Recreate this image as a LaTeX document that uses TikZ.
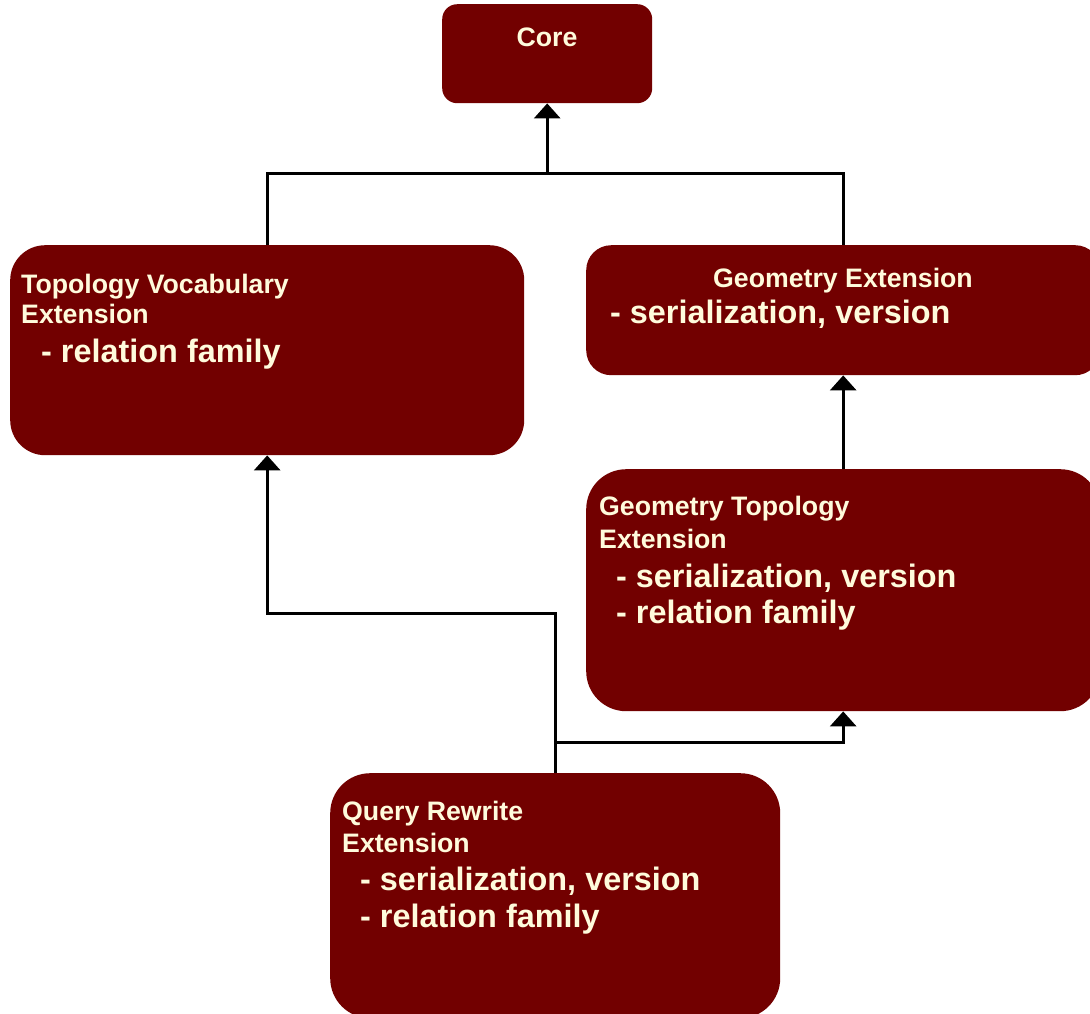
\documentclass[tikz,border=0pt]{standalone}
\usepackage{fontspec}
\setmainfont{Liberation Sans}
\usetikzlibrary{arrows.meta,calc}
\definecolor{boxred}{HTML}{720000}
\definecolor{boxtext}{HTML}{FFFBDC}
\begin{document}
\begin{tikzpicture}[x=1pt,y=-1pt,
  box/.style={rectangle,fill=boxred,draw=none,anchor=north west,inner sep=0pt},
  head/.style={text=boxtext,inner sep=0pt,anchor=base west,font=\fontsize{26.7}{31}\selectfont\bfseries},
  item/.style={text=boxtext,inner sep=0pt,anchor=base west,font=\fontsize{32.4}{37}\selectfont\bfseries},
  link/.style={line width=3pt,draw=black},
  arr/.style={link,-{Triangle[width=26pt,length=15pt]}}]
\useasboundingbox (0,0) rectangle (1090,1013);

% boxes
\node[box,minimum width=210pt,minimum height=99pt,rounded corners=15pt] (core) at (442,4) {};
\node[box,minimum width=514pt,minimum height=210pt,rounded corners=35pt] (tv) at (10,245) {};
\node[box,minimum width=514pt,minimum height=130pt,rounded corners=25pt] (ge) at (586,245) {};
\node[box,minimum width=514pt,minimum height=242pt,rounded corners=40pt] (gt) at (586,469) {};
\node[box,minimum width=450pt,minimum height=245pt,rounded corners=40pt] (qr) at (330,773) {};

% texts
\node[head,anchor=base] (core-t) at (547,46) {Core};

\node[head] (tv-t1) at (21,293) {Topology Vocabulary};
\node[head] (tv-t2) at (21,323) {Extension};
\node[item] (tv-i1) at (41,362) {- relation family};

\node[head,anchor=base] (ge-t1) at (843,287) {Geometry Extension};
\node[item] (ge-i1) at (610,323) {- serialization, version};

\node[head] (gt-t1) at (599,515) {Geometry Topology};
\node[head] (gt-t2) at (599,548) {Extension};
\node[item] (gt-i1) at (616,587) {- serialization, version};
\node[item] (gt-i2) at (616,623) {- relation family};

\node[head] (qr-t1) at (342,820) {Query Rewrite};
\node[head] (qr-t2) at (342,852) {Extension};
\node[item] (qr-i1) at (360,890) {- serialization, version};
\node[item] (qr-i2) at (360,927) {- relation family};

% connectors
\coordinate (join) at ($(core.south)+(0,-70pt)$);
\draw[link] (tv.north) |- (join);
\draw[link] (ge.north) |- (join);
\draw[arr] (join) -- (core.south);

\draw[arr] (gt.north) -- (ge.south);

\coordinate (qbend) at ($(qr.north)+(0,160pt)$);
\draw[arr] (qr.north) -- (qbend) -| (tv.south);

\coordinate (qsplit) at ($(qr.north)+(0,31pt)$);
\draw[arr] (qsplit) -| (gt.south);
\end{tikzpicture}
\end{document}
